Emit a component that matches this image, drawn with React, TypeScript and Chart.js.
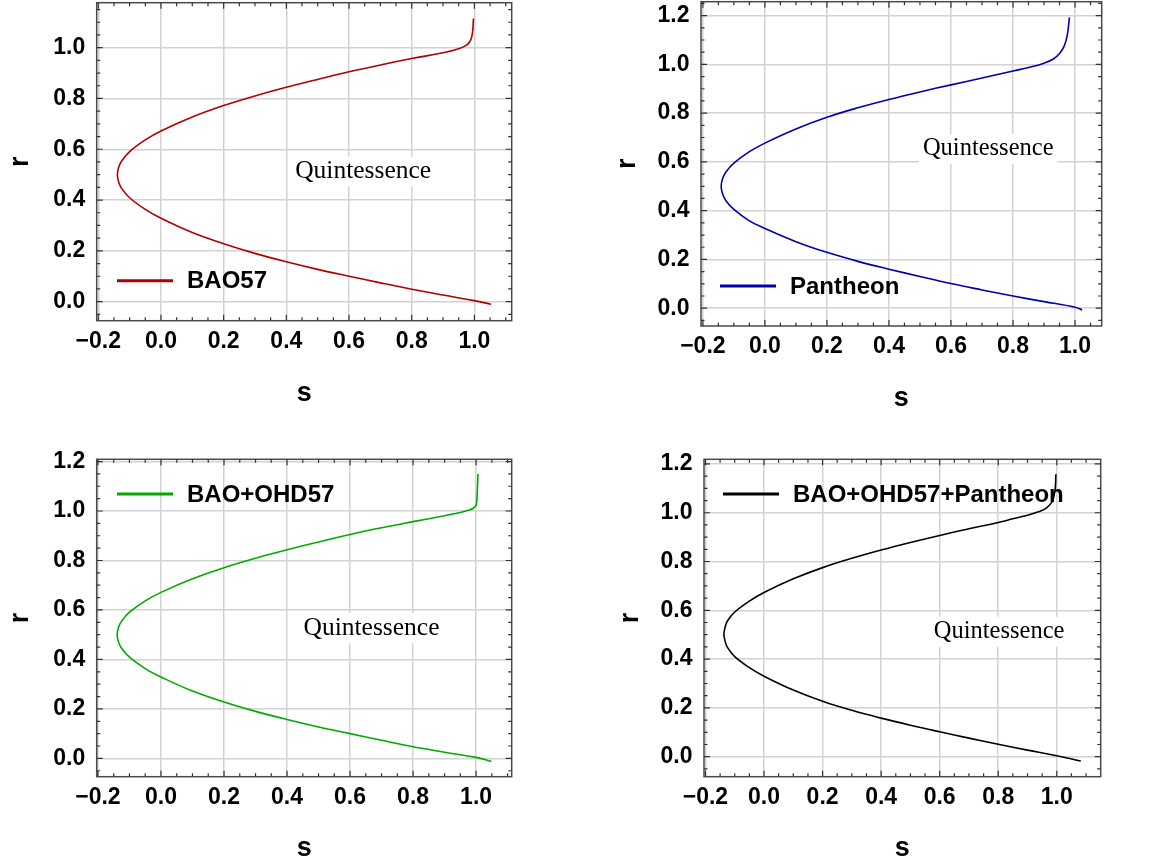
import React, { useEffect, useRef } from 'react';
import { Chart, registerables } from 'chart.js';

Chart.register(...registerables);

// ---------- data ----------
const xTickValues = [-0.2, 0.0, 0.2, 0.4, 0.6, 0.8, 1.0];
const yTickValues = [0.0, 0.2, 0.4, 0.6, 0.8, 1.0, 1.2];

const bao57S = [0.997, 0.994, 0.988, 0.975, 0.95, 0.9, 0.8, 0.7, 0.6, 0.5, 0.4, 0.3, 0.2, 0.1, 0.0, -0.05, -0.1, -0.125, -0.135, -0.139, -0.135, -0.125, -0.1, -0.05, 0.0, 0.1, 0.2, 0.3, 0.4, 0.5, 0.6, 0.7, 0.8, 0.9, 1.0, 1.053];
const bao57R = [1.115, 1.06, 1.03, 1.01, 0.996, 0.98, 0.957, 0.932, 0.905, 0.875, 0.844, 0.81, 0.772, 0.727, 0.672, 0.637, 0.591, 0.555, 0.529, 0.5, 0.471, 0.445, 0.409, 0.363, 0.328, 0.272, 0.228, 0.19, 0.157, 0.127, 0.1, 0.074, 0.049, 0.026, 0.004, -0.01];

const pantheonS = [0.982, 0.975, 0.965, 0.95, 0.93, 0.9, 0.85, 0.8, 0.7, 0.6, 0.5, 0.4, 0.3, 0.2, 0.1, 0.0, -0.05, -0.1, -0.125, -0.136, -0.141, -0.136, -0.125, -0.1, -0.05, 0.0, 0.1, 0.2, 0.3, 0.4, 0.5, 0.6, 0.7, 0.8, 0.9, 1.0, 1.023];
const pantheonR = [1.193, 1.12, 1.075, 1.045, 1.022, 1.005, 0.987, 0.973, 0.944, 0.916, 0.887, 0.856, 0.822, 0.783, 0.735, 0.677, 0.642, 0.595, 0.56, 0.533, 0.5, 0.467, 0.44, 0.405, 0.358, 0.327, 0.273, 0.229, 0.192, 0.16, 0.13, 0.101, 0.075, 0.05, 0.027, 0.004, -0.007];

const baoOhdS = [1.006, 1.003, 1.0, 0.99, 0.97, 0.95, 0.9, 0.8, 0.7, 0.6, 0.5, 0.4, 0.3, 0.2, 0.1, 0.0, -0.05, -0.1, -0.125, -0.135, -0.139, -0.135, -0.125, -0.1, -0.05, 0.0, 0.1, 0.2, 0.3, 0.4, 0.5, 0.6, 0.7, 0.8, 0.9, 1.0, 1.048];
const baoOhdR = [1.15, 1.06, 1.024, 1.01, 1.001, 0.994, 0.981, 0.957, 0.932, 0.905, 0.875, 0.843, 0.809, 0.771, 0.726, 0.671, 0.637, 0.591, 0.555, 0.529, 0.5, 0.471, 0.445, 0.409, 0.363, 0.329, 0.272, 0.228, 0.19, 0.157, 0.127, 0.1, 0.073, 0.047, 0.025, 0.004, -0.012];

const combinedS = [0.997, 0.994, 0.984, 0.965, 0.94, 0.9, 0.85, 0.8, 0.7, 0.6, 0.5, 0.4, 0.3, 0.2, 0.1, 0.0, -0.05, -0.1, -0.125, -0.133, -0.137, -0.133, -0.125, -0.1, -0.05, 0.0, 0.1, 0.2, 0.3, 0.4, 0.5, 0.6, 0.7, 0.8, 0.9, 1.0, 1.082];
const combinedR = [1.158, 1.093, 1.045, 1.02, 1.005, 0.99, 0.975, 0.96, 0.934, 0.907, 0.878, 0.847, 0.813, 0.775, 0.729, 0.673, 0.638, 0.593, 0.556, 0.53, 0.502, 0.474, 0.448, 0.41, 0.365, 0.33, 0.273, 0.227, 0.19, 0.158, 0.129, 0.102, 0.076, 0.051, 0.027, 0.004, -0.018];

const seriesLabels = ['BAO57', 'Pantheon', 'BAO+OHD57', 'BAO+OHD57+Pantheon'];
const annotationText = 'Quintessence';

// ---------- styling / layout ----------
const SANS = '"Liberation Sans", Arial, sans-serif';
const SERIF = '"Liberation Serif", "Times New Roman", serif';

type Panel = {
  left: number; top: number; w: number; h: number;
  pad: { left: number; top: number; right: number; bottom: number };
  yW: number; xH: number; sTitlePad: number;
  xMin: number; xMax: number; yMin: number; yMax: number;
  s: number[]; r: number[]; label: string; color: string;
  legendDX: number; legendDY: number;
  annoS: number; annoR: number; annoSize: number;
};

const panels: Panel[] = [
  {
    left: 0, top: 0, w: 560, h: 420,
    pad: { left: 0, top: 2.7, right: 48.3, bottom: 0 }, yW: 96.7, xH: 99.3, sTitlePad: 10.3,
    xMin: -0.205, xMax: 1.119, yMin: -0.075, yMax: 1.177,
    s: bao57S, r: bao57R, label: seriesLabels[0], color: '#b00000',
    legendDX: 20.3, legendDY: 278, annoS: 0.645, annoR: 0.512, annoSize: 25.5,
  },
  {
    left: 580, top: 0, w: 586, h: 420,
    pad: { left: 26.7, top: 1.7, right: 64.3, bottom: 0 }, yW: 94.3, xH: 94, sTitlePad: 5.3,
    xMin: -0.206, xMax: 1.086, yMin: -0.073, yMax: 1.257,
    s: pantheonS, r: pantheonR, label: seriesLabels[1], color: '#0000b0',
    legendDX: 19, legendDY: 284.3, annoS: 0.72, annoR: 0.653, annoSize: 24.5,
  },
  {
    left: 0, top: 440, w: 560, h: 425,
    pad: { left: 0, top: 19.3, right: 48.3, bottom: 0 }, yW: 96.7, xH: 88.3, sTitlePad: 0,
    xMin: -0.204, xMax: 1.113, yMin: -0.074, yMax: 1.209,
    s: baoOhdS, r: baoOhdR, label: seriesLabels[2], color: '#00aa00',
    legendDX: 20.3, legendDY: 34.7, annoS: 0.668, annoR: 0.526, annoSize: 25.5,
  },
  {
    left: 580, top: 440, w: 586, h: 425,
    pad: { left: 30, top: 19.3, right: 65.3, bottom: 0 }, yW: 94, xH: 88.3, sTitlePad: 0,
    xMin: -0.205, xMax: 1.15, yMin: -0.082, yMax: 1.219,
    s: combinedS, r: combinedR, label: seriesLabels[3], color: '#000000',
    legendDX: 19, legendDY: 34.7, annoS: 0.803, annoR: 0.512, annoSize: 24.5,
  },
];

const fmt = (v: number) => {
  const t = Math.abs(v).toFixed(1);
  return v < -1e-9 ? '\u2212' + t : t;
};

const zeroPad = (scale: any) => {
  scale.paddingTop = 0;
  scale.paddingBottom = 0;
  scale.paddingLeft = 0;
  scale.paddingRight = 0;
};

const decorPlugin = {
  id: 'panelDecor',
  beforeDatasetsDraw(chart: any, _args: any, opts: any) {
    const { ctx, scales } = chart;
    const x = scales.x, y = scales.y;
    ctx.save();
    ctx.font = `${opts.annoSize}px ${SERIF}`;
    const w = ctx.measureText(annotationText).width;
    const cx = x.getPixelForValue(opts.annoS);
    const cy = y.getPixelForValue(opts.annoR);
    ctx.fillStyle = '#ffffff';
    ctx.fillRect(cx - w / 2 - 4, cy - 15, w + 8, 30);
    ctx.fillStyle = '#000000';
    ctx.textAlign = 'center';
    ctx.textBaseline = 'middle';
    ctx.fillText(annotationText, cx, cy);
    ctx.restore();
  },
  afterDraw(chart: any, _args: any, opts: any) {
    const { ctx, chartArea, scales } = chart;
    const { left, right, top, bottom } = chartArea;
    const x = scales.x, y = scales.y;
    ctx.save();
    // legend
    const ds = chart.data.datasets[0];
    const ly = top + opts.legendDY;
    const lx = left + opts.legendDX;
    ctx.strokeStyle = ds.borderColor;
    ctx.lineWidth = 3;
    ctx.beginPath();
    ctx.moveTo(lx, ly);
    ctx.lineTo(lx + 56, ly);
    ctx.stroke();
    ctx.fillStyle = '#000000';
    ctx.font = `bold 24px ${SANS}`;
    ctx.textAlign = 'left';
    ctx.textBaseline = 'middle';
    ctx.fillText(ds.label, lx + 70, ly + 1);

    // frame
    ctx.strokeStyle = '#4a4a4a';
    ctx.lineWidth = 1.5;
    ctx.strokeRect(left, top, right - left, bottom - top);
    // ticks (major every 0.2, minor every 0.05) on all four sides, inward
    ctx.lineWidth = 1.2;
    ctx.strokeStyle = '#333333';
    ctx.beginPath();
    for (let k = -5; k <= 25; k++) {
      const v = k * 0.05;
      const major = k % 4 === 0;
      const len = major ? 6 : 3.5;
      if (v >= x.min && v <= x.max) {
        const px = x.getPixelForValue(v);
        ctx.moveTo(px, bottom); ctx.lineTo(px, bottom - len);
        ctx.moveTo(px, top); ctx.lineTo(px, top + len);
      }
      if (v >= y.min && v <= y.max) {
        const py = y.getPixelForValue(v);
        ctx.moveTo(left, py); ctx.lineTo(left + len, py);
        ctx.moveTo(right, py); ctx.lineTo(right - len, py);
      }
    }
    ctx.stroke();
    ctx.restore();
  },
};

function PanelChart({ p }: { p: Panel }) {
  const ref = useRef<HTMLCanvasElement | null>(null);
  useEffect(() => {
    if (!ref.current) return;
    const points = p.s.map((sv, i) => ({ x: sv, y: p.r[i] }));
    const chart = new Chart(ref.current, {
      type: 'scatter',
      data: {
        datasets: [
          {
            label: p.label,
            data: points,
            showLine: true,
            borderColor: p.color,
            backgroundColor: p.color,
            borderWidth: 1.6,
            pointRadius: 0,
            tension: 0.4,
          } as any,
        ],
      },
      options: {
        animation: false,
        responsive: false,
        devicePixelRatio: 1,
        layout: { padding: p.pad },
        plugins: {
          legend: { display: false },
          tooltip: { enabled: false },
          panelDecor: {
            legendDX: p.legendDX, legendDY: p.legendDY,
            annoS: p.annoS, annoR: p.annoR, annoSize: p.annoSize,
          },
        } as any,
        scales: {
          x: {
            type: 'linear',
            min: p.xMin,
            max: p.xMax,
            afterBuildTicks: (scale: any) => {
              scale.ticks = xTickValues.filter((v) => v >= p.xMin && v <= p.xMax).map((v) => ({ value: v }));
            },
            afterFit: (scale: any) => { scale.height = p.xH; zeroPad(scale); },
            ticks: {
              callback: (v: any) => fmt(Number(v)),
              color: '#000000',
              font: { family: SANS, size: 23, weight: 'bold' },
              padding: 7,
              maxRotation: 0,
              autoSkip: false,
            },
            grid: { color: '#d2d2d2', lineWidth: 1.5, drawTicks: false },
            border: { display: false },
            title: {
              display: true, text: 's', color: '#000000',
              font: { family: SANS, size: 27, weight: 'bold' },
              padding: { top: 0, bottom: p.sTitlePad },
            },
          },
          y: {
            type: 'linear',
            min: p.yMin,
            max: p.yMax,
            afterBuildTicks: (scale: any) => {
              scale.ticks = yTickValues.filter((v) => v >= p.yMin && v <= p.yMax).map((v) => ({ value: v }));
            },
            afterFit: (scale: any) => { scale.width = p.yW; zeroPad(scale); },
            ticks: {
              callback: (v: any) => fmt(Number(v)),
              color: '#000000',
              font: { family: SANS, size: 23, weight: 'bold' },
              padding: 11.5,
              autoSkip: false,
            },
            grid: { color: '#d2d2d2', lineWidth: 1.5, drawTicks: false },
            border: { display: false },
            title: {
              display: true, text: 'r', color: '#000000',
              font: { family: SANS, size: 27, weight: 'bold' },
              padding: { top: 4.8, bottom: 0 },
            },
          },
        },
      } as any,
      plugins: [decorPlugin as any],
    });
    return () => chart.destroy();
  }, [p]);
  return (
    <canvas
      ref={ref}
      width={p.w}
      height={p.h}
      style={{ position: 'absolute', left: p.left, top: p.top, width: p.w, height: p.h }}
    />
  );
}

export default function App() {
  return (
    <div style={{ position: 'absolute', left: 0, top: 0, width: 1166, height: 865, background: '#ffffff' }}>
      {panels.map((p, i) => (
        <PanelChart key={i} p={p} />
      ))}
    </div>
  );
}
